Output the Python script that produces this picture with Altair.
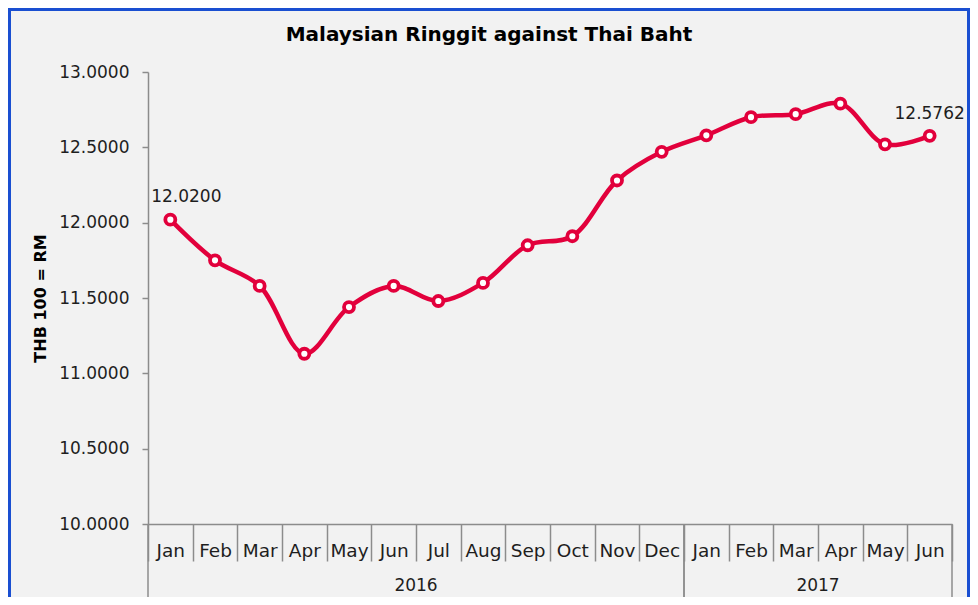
import altair as alt
import pandas as pd

# ---- data ----
months = ["Jan", "Feb", "Mar", "Apr", "May", "Jun", "Jul", "Aug", "Sep", "Oct", "Nov", "Dec",
          "Jan", "Feb", "Mar", "Apr", "May", "Jun"]
years = [2016] * 12 + [2017] * 6
rates = [12.0200, 11.75, 11.58, 11.13, 11.44, 11.58, 11.48, 11.60, 11.85, 11.91, 12.28, 12.47,
         12.58, 12.70, 12.72, 12.79, 12.52, 12.5762]
y_ticks = [10.0, 10.5, 11.0, 11.5, 12.0, 12.5, 13.0]
year_labels = ["2016", "2017"]
year_first = ["Jan 2016", "Jan 2017"]
year_last = ["Dec 2016", "Jun 2017"]
year_mid = ["Jun 2016", "Mar 2017"]   # centre of each year block is the end of this month
label_keys = ["Jan 2016", "Jun 2017"]
label_texts = ["12.0200", "12.5762"]
title_text = "Malaysian Ringgit against Thai Baht"

keys = [f"{m} {y}" for m, y in zip(months, years)]
df = pd.DataFrame({"key": keys, "month": months, "year": years, "rate": rates})
ydf = pd.DataFrame({"year": year_labels, "first": year_first, "last": year_last, "mid": year_mid})
ldf = pd.DataFrame({"key": label_keys, "text": label_texts,
                    "rate": [rates[keys.index(k)] for k in label_keys]})

W, H = 804, 452
RED = "#e2003c"
GREY = "#8c8c8c"
FONT = "DejaVu Sans"
TXT = "#1e1e1e"

xscale = alt.Scale(type="band", domain=keys, paddingInner=0, paddingOuter=0)
yscale = alt.Scale(domain=[10, 13], nice=False, zero=False)

x_axis = alt.Axis(title=None, tickBand="extent", tickSize=37, labelPadding=-20,
                  labelAngle=0, labelExpr="slice(datum.label, 0, 3)",
                  labelFontSize=18.5, labelColor=TXT, labelFont=FONT,
                  domainColor=GREY, tickColor=GREY, domainWidth=1.5, tickWidth=1.5)
y_axis = alt.Axis(values=y_ticks, format=".4f", grid=False, tickSize=6, labelPadding=13,
                  labelFontSize=17, labelColor=TXT, labelFont=FONT,
                  domainColor=GREY, tickColor=GREY, domainWidth=1.5, tickWidth=1.5,
                  title="THB 100 = RM", titleFontSize=16, titleFontWeight="bold",
                  titleFont=FONT, titleColor="#000000", titleX=-108, titleY=H / 2,
                  titleAlign="center", titleBaseline="middle")


def X(field, bp):
    return alt.X(f"{field}:N", scale=xscale, bandPosition=bp, axis=x_axis)


def Y(field="rate"):
    return alt.Y(f"{field}:Q", scale=yscale, axis=y_axis)


base = alt.Chart(df)
line = base.mark_line(interpolate="catmull-rom", color=RED, strokeWidth=4.5).encode(x=X("key", 0.5), y=Y())
pts = base.mark_point(filled=True, fill="white", stroke=RED, strokeWidth=3.8, size=100, opacity=1).encode(
    x=X("key", 0.5), y=Y())

lab_base = alt.Chart(ldf)
lab_first = lab_base.transform_filter(alt.datum.key == label_keys[0]).mark_text(
    fontSize=17, font=FONT, color=TXT, dx=16, dy=-23).encode(x=X("key", 0.5), y=Y(), text="text:N")
lab_last = lab_base.transform_filter(alt.datum.key == label_keys[1]).mark_text(
    fontSize=17, font=FONT, color=TXT, dx=0, dy=-22).encode(x=X("key", 0.5), y=Y(), text="text:N")

# second level of the category axis (years)
ybase = alt.Chart(ydf)
yr_start = ybase.mark_rule(color=GREY, strokeWidth=1.5).encode(
    x=X("first", 0), y=alt.value(H), y2=alt.value(H + 80))
yr_end = ybase.mark_rule(color=GREY, strokeWidth=1.5).encode(
    x=X("last", 1), y=alt.value(H), y2=alt.value(H + 80))
yr_text = ybase.mark_text(fontSize=17, font=FONT, color=TXT, baseline="middle").encode(
    x=X("mid", 1), y=alt.value(H + 62), text="year:N")

# chart title and outer blue frame of the chart box
one = alt.Chart(pd.DataFrame({"k": [0]}))
title = one.mark_text(text=title_text, fontSize=20, fontWeight="bold", font=FONT, color="#000000",
                      baseline="alphabetic", align="center").encode(x=alt.value(341), y=alt.value(-31))
FB = "#1a4fd1"
frame_l = one.mark_rule(color=FB, strokeWidth=3).encode(x=alt.value(-138.5), y=alt.value(-64), y2=alt.value(540))
frame_r = one.mark_rule(color=FB, strokeWidth=3).encode(x=alt.value(820.5), y=alt.value(-64), y2=alt.value(540))
frame_t = one.mark_rule(color=FB, strokeWidth=3).encode(x=alt.value(-140), x2=alt.value(822), y=alt.value(-62.5))

chart = alt.layer(line, pts, lab_first, lab_last, yr_start, yr_end, yr_text,
                  title, frame_l, frame_r, frame_t).properties(
    width=W, height=H,
    padding={"left": 140, "top": 64, "right": 18, "bottom": 73},
    autosize=alt.AutoSizeParams(type="none"),
).configure(background="#f2f2f2", font=FONT).configure_view(stroke=None)

chart.save("out.html", embed_options={"renderer": "svg", "actions": False})
